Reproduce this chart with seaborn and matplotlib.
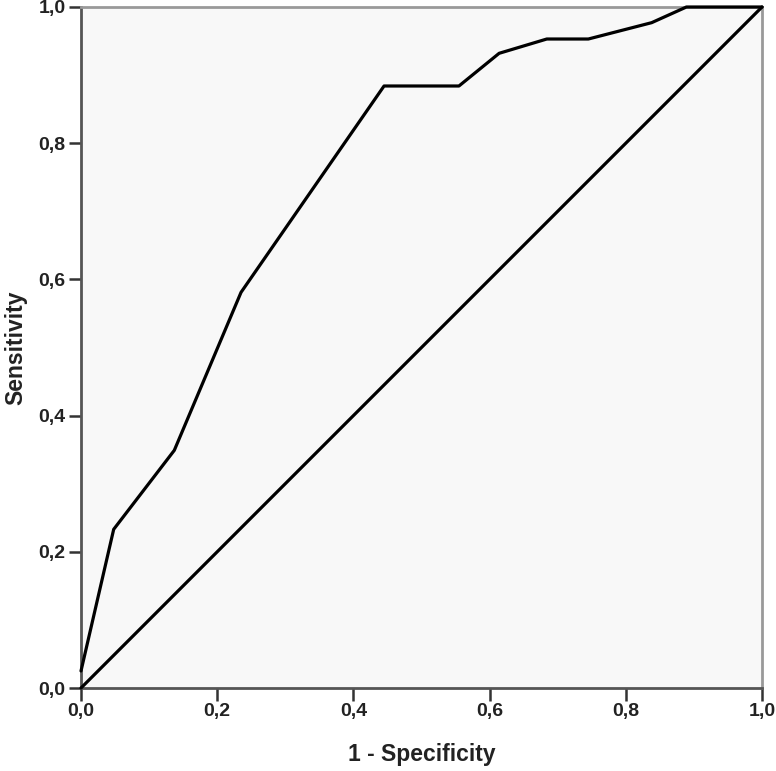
import numpy as np
import pandas as pd
import seaborn as sns
import matplotlib
matplotlib.use("Agg")
import matplotlib.pyplot as plt

# ROC curve points
fpr = [0.0, 0.0, 0.048, 0.137, 0.235, 0.445, 0.555, 0.614, 0.684, 0.745, 0.838, 0.889, 1.0]
tpr = [0.0, 0.05, 0.233, 0.349, 0.581, 0.884, 0.884, 0.932, 0.953, 0.953, 0.977, 1.0, 1.0]
ref_x = [0.0, 1.0]
ref_y = [0.0, 1.0]
ticks = [0.0, 0.2, 0.4, 0.6, 0.8, 1.0]
tick_labels = ["0,0", "0,2", "0,4", "0,6", "0,8", "1,0"]

sns.set_style("ticks")
plt.rcParams['font.family'] = ['Liberation Sans', 'DejaVu Sans']

fig = plt.figure(figsize=(7.76, 7.71), dpi=100)
ax = fig.add_axes([81/776, 83/771, 681/776, 681/771])
ax.set_facecolor("#f8f8f8")

roc = pd.DataFrame({"fpr": fpr, "tpr": tpr})
ref = pd.DataFrame({"x": ref_x, "y": ref_y})
sns.lineplot(data=roc, x="fpr", y="tpr", sort=False, color="black", linewidth=2.3, ax=ax)
sns.lineplot(data=ref, x="x", y="y", sort=False, color="black", linewidth=2.3, ax=ax)
for ln in ax.lines:
    ln.set_clip_on(False)
    ln.set_zorder(3)

ax.set_xlim(0, 1)
ax.set_ylim(0, 1)
ax.set_xticks(ticks)
ax.set_xticklabels(tick_labels, fontweight="bold", fontsize=14, color="#222222")
ax.set_yticks(ticks)
ax.set_yticklabels(tick_labels, fontweight="bold", fontsize=14, color="#222222")
ax.tick_params(direction="out", length=9, width=1.8, color="#333333", pad=2)

for side in ["left", "bottom"]:
    ax.spines[side].set_color("#555555")
    ax.spines[side].set_linewidth(2)
for side in ["top", "right"]:
    ax.spines[side].set_visible(True)
    ax.spines[side].set_color("#999999")
    ax.spines[side].set_linewidth(2)

ax.set_xlabel("1 - Specificity", fontweight="bold", fontsize=16.5, color="#222222", va="center")
ax.xaxis.set_label_coords(0.5, -0.098)
ax.set_ylabel("Sensitivity", fontweight="bold", fontsize=16.5, color="#222222", va="center")
ax.yaxis.set_label_coords(-0.095, 0.5)

fig.savefig("out.png", dpi=100, facecolor="white")
